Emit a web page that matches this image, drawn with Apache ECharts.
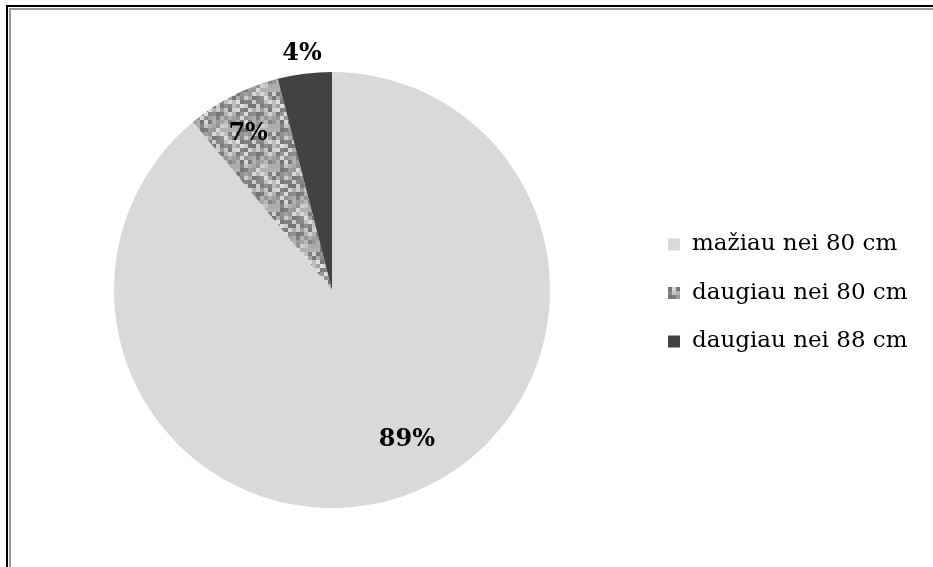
<!DOCTYPE html>
<html>
<head>
<meta charset="utf-8">
<script src="https://cdn.jsdelivr.net/npm/echarts@6/dist/echarts.min.js"></script>
<style>
  html, body { margin: 0; padding: 0; background: #fff; }
  #chart { width: 933px; height: 567px; }
</style>
</head>
<body>
<div id="chart"></div>
<script>
const categories = ["mažiau nei 80 cm", "daugiau nei 80 cm", "daugiau nei 88 cm"];
const shares = [89, 7, 4];
// where each percentage label sits relative to the slice's inside point
const labelShift = [[37, 44], [-33, -56], [-16, -125]];

// speckled grey fill for the middle slice
function speckle() {
  const c = document.createElement("canvas");
  const cell = 4, n = 10;
  c.width = c.height = cell * n;
  const ctx = c.getContext("2d");
  for (let i = 0; i < n; i++) {
    for (let j = 0; j < n; j++) {
      let h = Math.sin(i * 12.9898 + j * 78.233) * 43758.5453;
      h = h - Math.floor(h);
      const g = Math.round(115 + h * 110);
      ctx.fillStyle = `rgb(${g},${g},${g})`;
      ctx.fillRect(i * cell, j * cell, cell, cell);
    }
  }
  return { image: c, repeat: "repeat" };
}

const fills = ["#d9d9d9", speckle(), "#424242"];

const chart = echarts.init(document.getElementById("chart"));
chart.setOption({
  backgroundColor: "#fff",
  animation: false,
  graphic: [
    { type: "rect", shape: { x: 6, y: 5, width: 927, height: 2 }, style: { fill: "#000" } },
    { type: "rect", shape: { x: 6, y: 5, width: 2, height: 562 }, style: { fill: "#000" } },
    { type: "rect", shape: { x: 9, y: 8, width: 924, height: 2 }, style: { fill: "#999" } },
    { type: "rect", shape: { x: 9, y: 8, width: 2, height: 559 }, style: { fill: "#999" } }
  ],
  legend: {
    orient: "vertical",
    left: 663,
    top: 227,
    itemWidth: 12,
    itemHeight: 12,
    itemGap: 23.5,
    icon: "rect",
    data: categories,
    textStyle: { fontFamily: "DejaVu Serif", fontSize: 23, lineHeight: 25, color: "#000", padding: [0, 0, 0, 7] }
  },
  series: [{
    type: "pie",
    center: [332, 290],
    radius: 218,
    startAngle: 90,
    clockwise: true,
    percentPrecision: 0,
    itemStyle: { borderWidth: 0 },
    emphasis: { disabled: true },
    labelLine: { show: false },
    label: {
      position: "inside",
      formatter: "{d}%",
      fontFamily: "DejaVu Serif",
      fontWeight: "bold",
      fontSize: 24,
      color: "#000"
    },
    data: categories.map((name, i) => ({
      name: name,
      value: shares[i],
      itemStyle: { color: fills[i] },
      label: { offset: labelShift[i] }
    }))
  }]
});
</script>
</body>
</html>
